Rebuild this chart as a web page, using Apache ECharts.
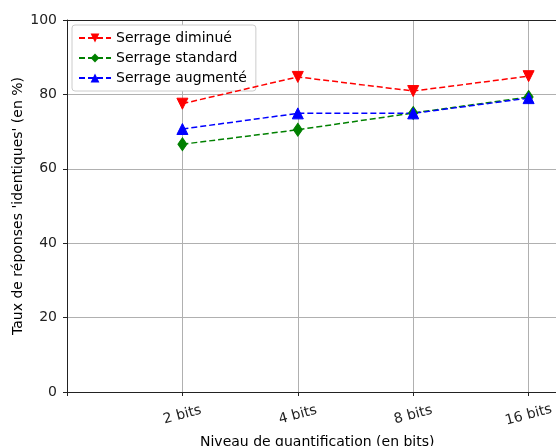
<!DOCTYPE html>
<html>
<head>
<meta charset="utf-8">
<script src="https://cdn.jsdelivr.net/npm/echarts@6/dist/echarts.min.js"></script>
<style>
  html, body { margin: 0; padding: 0; background: #fff; }
  #mychart { width: 556px; height: 446px; }
</style>
</head>
<body>
<div id="mychart"></div>
<script>
// niveaux de quantification
const categories = ["2 bits", "4 bits", "8 bits", "16 bits"];
// taux de réponses identiques (%)
const serrageDiminue = [77.5, 84.7, 80.9, 84.9];
const serrageStandard = [66.6, 70.5, 75.0, 79.3];
const serrageAugmente = [70.7, 74.9, 74.9, 79.0];
const yTicks = [0, 20, 40, 60, 80, 100];

const font = "DejaVu Sans";
// position i+1 pour chaque catégorie
const toPoints = arr => arr.map((v, i) => [i + 1, v]);

function lineSeries(name, data, color, symbol, size, rotate) {
  return {
    name: name,
    type: "line",
    data: toPoints(data),
    symbol: symbol,
    symbolSize: size,
    symbolRotate: rotate || 0,
    lineStyle: { color: color, width: 1.5, type: [6, 3] },
    itemStyle: { color: color, borderColor: color },
    emphasis: { disabled: true },
    z: 5
  };
}

// le cadre déborde à droite (rogné dans l'original)
const xMax = 5;

const option = {
  animation: false,
  textStyle: { fontFamily: font },
  grid: {
    left: 67, top: 20, bottom: 54, right: -88,
    outerBoundsMode: "none", containLabel: false,
    show: false
  },
  legend: {
    orient: "vertical",
    left: 72, top: 25,
    itemWidth: 32, itemHeight: 11, itemGap: 6,
    padding: [6, 9, 6, 6],
    backgroundColor: "#fff",
    borderColor: "#ccc", borderWidth: 1, borderRadius: 3,
    textStyle: { fontFamily: font, fontSize: 14, color: "#000" },
    data: ["Serrage diminué", "Serrage standard", "Serrage augmenté"]
  },
  xAxis: [
    {
      type: "value",
      min: 0, max: xMax, interval: 1,
      axisLine: { lineStyle: { color: "#222" } },
      axisTick: { show: true, length: 4, lineStyle: { color: "#222" } },
      axisLabel: {
        rotate: 15, align: "center", margin: 23,
        fontFamily: font, fontSize: 14, color: "#222",
        formatter: v => categories[Math.round(v) - 1] !== undefined && Math.abs(v - Math.round(v)) < 1e-6 ? categories[Math.round(v) - 1] : ""
      },
      splitLine: { show: true, lineStyle: { color: "#b0b0b0", width: 1 } }
    },
    {
      // bord supérieur du cadre
      type: "value", position: "top",
      min: 0, max: xMax,
      axisLine: { show: true, lineStyle: { color: "#222" } },
      axisTick: { show: false }, axisLabel: { show: false }, splitLine: { show: false }
    }
  ],
  yAxis: {
    type: "value",
    min: yTicks[0], max: yTicks[yTicks.length - 1], interval: 20,
    name: "Taux de réponses 'identiques' (en %)",
    nameLocation: "middle", nameGap: 42, nameMoveOverlap: false,
    nameTextStyle: { fontFamily: font, fontSize: 14, color: "#000" },
    axisLine: { show: true, lineStyle: { color: "#222" } },
    axisTick: { show: true, length: 4, lineStyle: { color: "#222" } },
    axisLabel: { fontFamily: font, fontSize: 14, color: "#222", margin: 10 },
    splitLine: { show: true, lineStyle: { color: "#b0b0b0", width: 1 } }
  },
  // titre de l'axe x, centré sur le cadre d'origine (rogné en bas)
  graphic: [{
    type: "text", left: 200, top: 435,
    style: { text: "Niveau de quantification (en bits)", font: "14px " + font, fill: "#000" }
  }],
  series: [
    lineSeries("Serrage diminué", serrageDiminue, "#ff0000", "triangle", 11, 180),
    lineSeries("Serrage standard", serrageStandard, "#008000", "diamond", [9, 13]),
    lineSeries("Serrage augmenté", serrageAugmente, "#0000ff", "triangle", 11)
  ]
};

const myChart = echarts.init(document.getElementById("mychart"));
myChart.setOption(option);
</script>
</body>
</html>
